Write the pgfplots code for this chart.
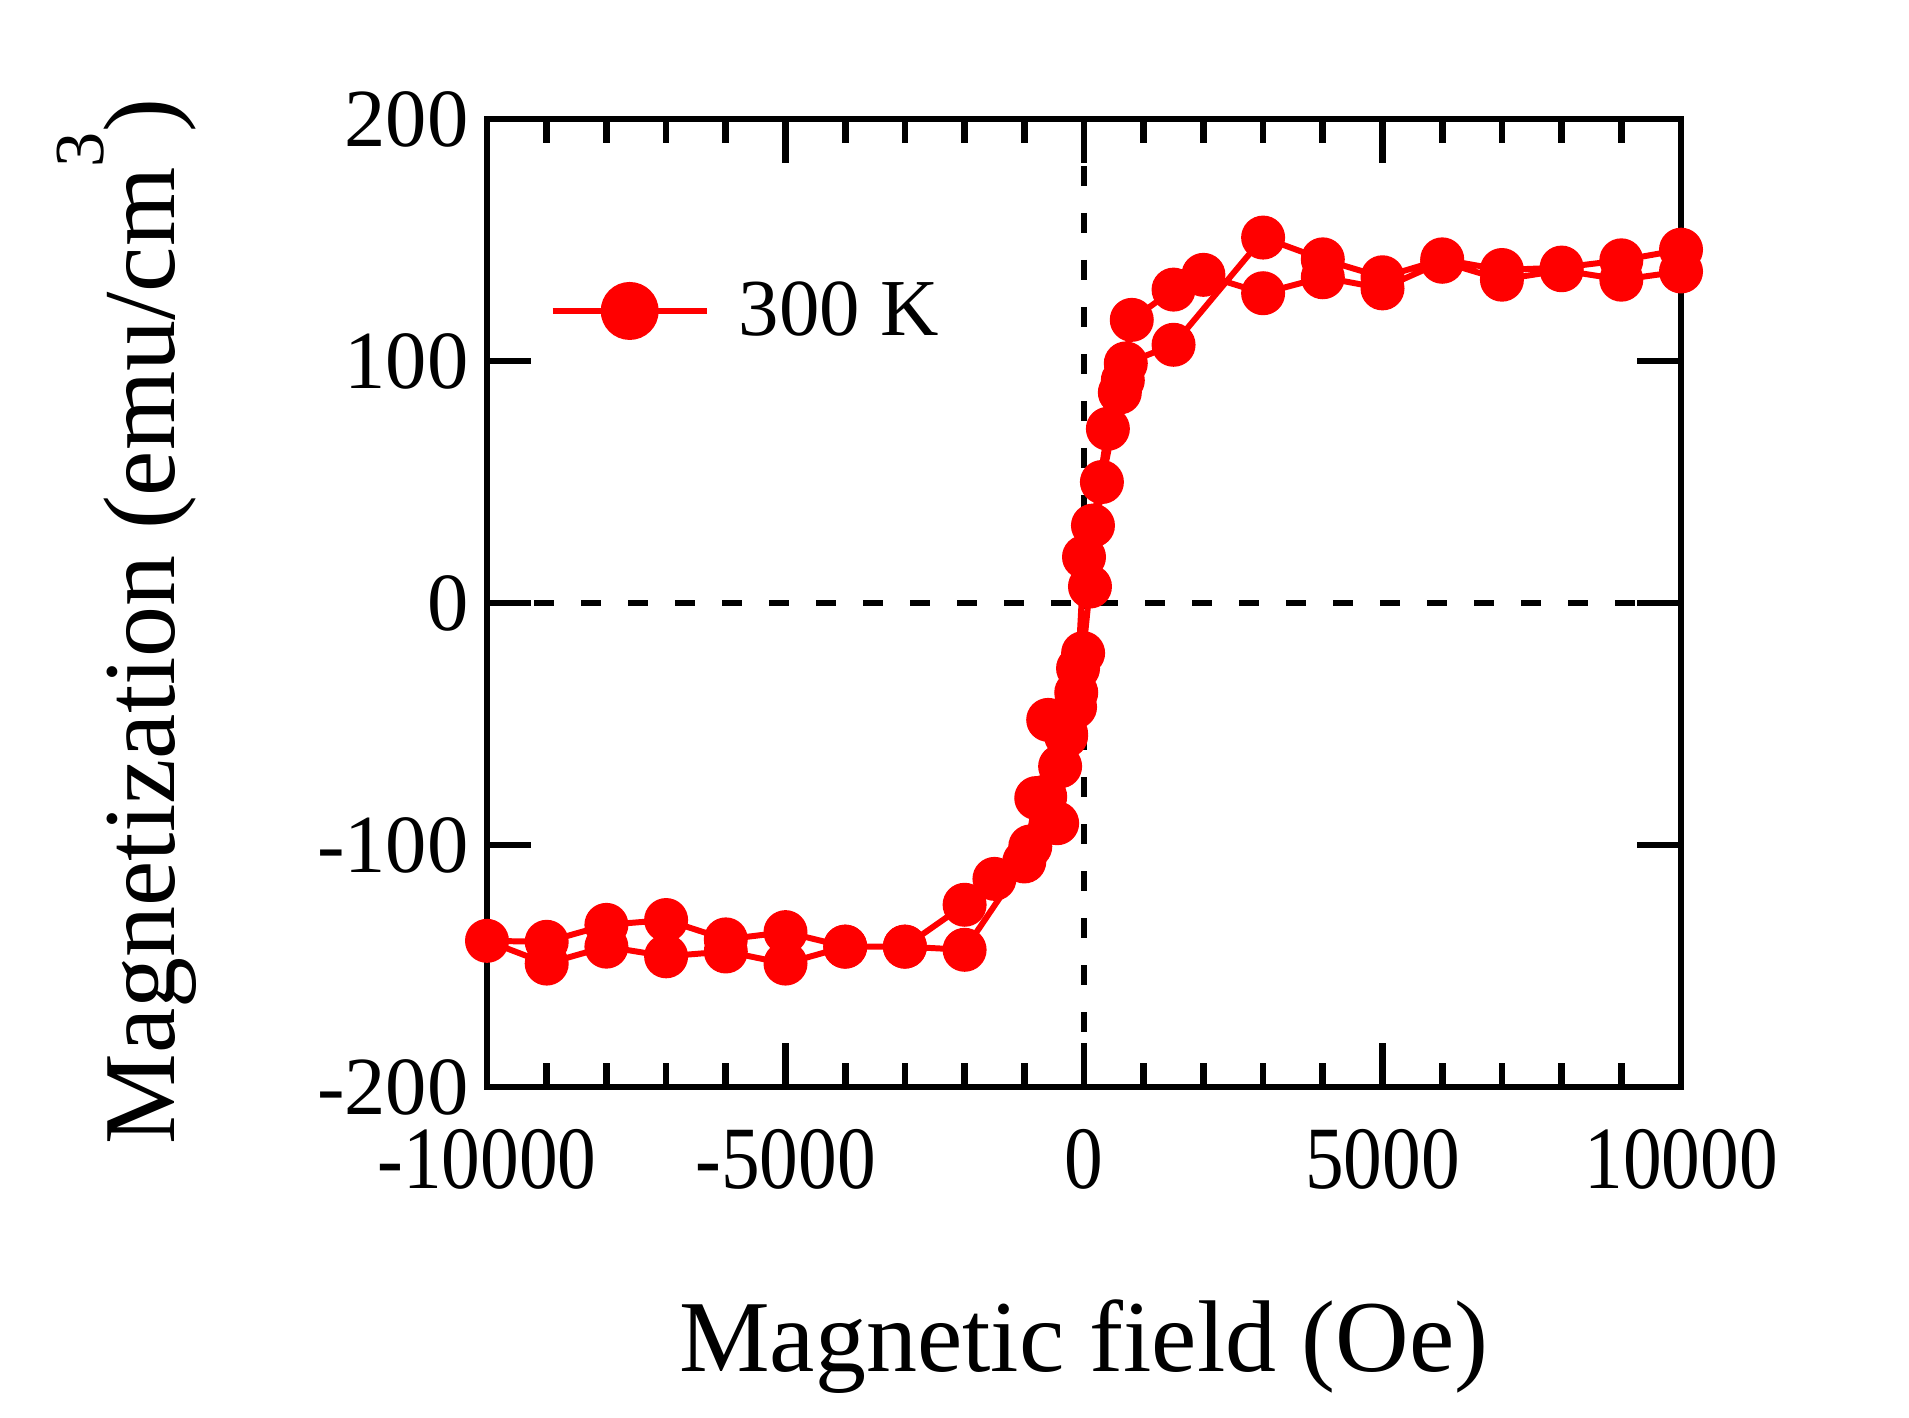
\documentclass[border=0pt]{standalone}
\usepackage{pgfplots}
\pgfplotsset{compat=1.18}
\usepackage{fontspec}
\setmainfont{Liberation Serif}
\pgfplotstableread{
x y
10000 146
9000 141.6
8000 138.6
7000 137.6
6000 142
5000 134.6
4000 142
3000 151
1500 106.7
700 99
600 87
400 72
150 32
0 19
-100 -27
-150 -43
-300 -54
-400 -67.5
-650 -80
-900 -100.6
-1500 -114
-2000 -124.7
-3000 -142
-4000 -142
-5000 -136
-6000 -139
-7000 -131
-8000 -133
-9000 -140
-10000 -139.6
-9000 -149
-8000 -142
-7000 -146
-6000 -144
-5000 -149
-4000 -142
-3000 -142
-2000 -143.3
-1000 -106.8
-800 -80.6
-450 -91
-300 -55
-600 -48.3
-130 -37
-15 -20.7
100 6.8
300 50
650 92
800 117
1500 129.5
2000 135.6
3000 128
4000 134.6
5000 130
6000 141
7000 133.6
8000 137.5
9000 133.6
10000 137
}\loopdata
\begin{document}
\begin{tikzpicture}
\useasboundingbox (0,0) rectangle (19.09cm,14.17cm);
\begin{axis}[
  at={(4.87cm,3.30cm)}, anchor=south west,
  scale only axis, width=11.94cm, height=9.68cm,
  xmin=-10000, xmax=10000, ymin=-200, ymax=200,
  clip=false,
  scaled x ticks=false, scaled y ticks=false,
  axis line style={line width=1.9pt},
  tick style={black, line width=1.9pt},
  tick align=inside,
  major tick length=4.4mm, minor tick length=2.4mm,
  xtick={-10000,-5000,0,5000,10000},
  xticklabels={\scalebox{1}[1.15]{-10000},\scalebox{1}[1.15]{-5000},\scalebox{1}[1.15]{0},\scalebox{1}[1.15]{5000},\scalebox{1}[1.15]{10000}},
  minor x tick num=4,
  ytick={-200,-100,0,100,200},
  yticklabels={-200,-100,0,100,200},
  xticklabel style={font=\fontsize{22}{26}\selectfont, yshift=-3.0mm},
  yticklabel style={font=\fontsize{23.5}{28}\selectfont, xshift=-0.6mm},
  xlabel={Magnetic field (Oe)},
  ylabel={Magnetization (emu/cm\raisebox{0.69em}{\fontsize{20}{24}\selectfont 3})},
  label style={font=\fontsize{29}{34}\selectfont},
  xlabel style={at={(axis description cs:0.5,-0.2944)}, anchor=base},
  ylabel style={at={(axis description cs:-0.2621,0.481)}, anchor=base},
  legend style={draw=none, fill=none, at={(axis description cs:0.0431,0.8017)}, anchor=west,
    font=\fontsize{23}{27}\selectfont,
    /tikz/every odd column/.append style={column sep=2.2mm}},
  legend image code/.code={
    \draw[red, line width=1.7pt] (0cm,0cm) -- (1.54cm,0cm);
    \fill[red] (0.77cm,0cm) circle (2.6mm);},
]
\addplot[black, line width=1.7pt, dash pattern=on 2mm off 2.7mm, forget plot] coordinates {(-10000,0) (10000,0)};
\addplot[black, line width=1.7pt, dash pattern=on 2mm off 2.7mm, forget plot] coordinates {(0,200) (0,-200)};
\addplot[red, line width=1.7pt, mark=*, mark size=1.9mm, mark options={solid, fill=red, draw=red}] table[x=x, y=y] {\loopdata};
\addlegendentry{300 K}
\end{axis}
\end{tikzpicture}
\end{document}
